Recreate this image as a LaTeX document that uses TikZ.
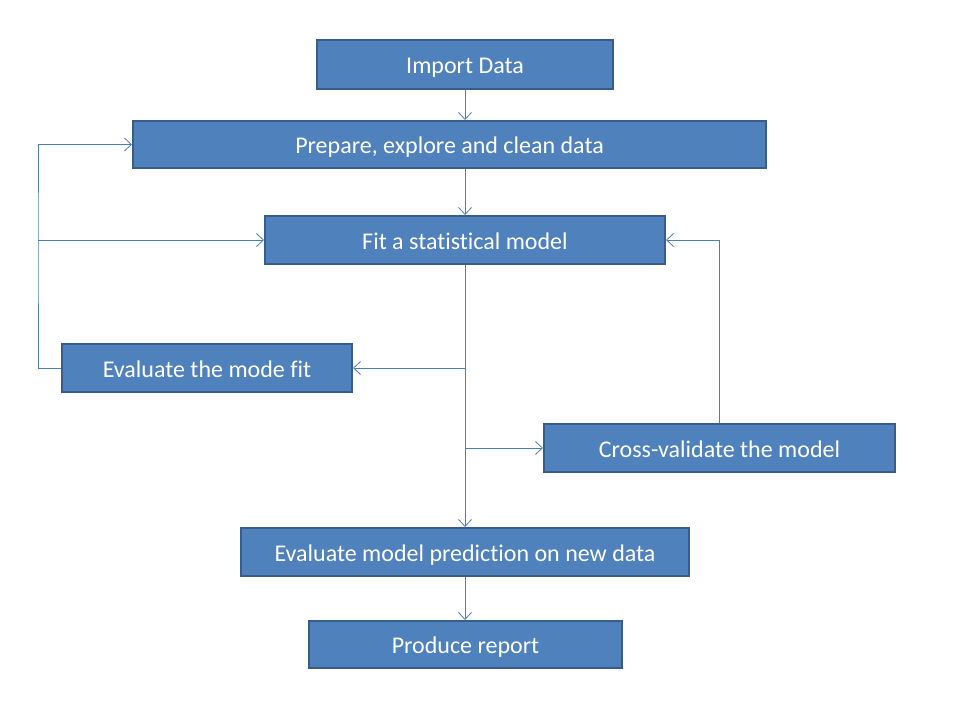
\documentclass[tikz,border=0pt]{standalone}
\usepackage{fontspec}
\setmainfont{Carlito}[Ligatures={NoCommon}]
\usetikzlibrary{arrows.meta}
\definecolor{boxfill}{HTML}{4F81BD}
\definecolor{boxline}{HTML}{385D8A}
\definecolor{conn}{HTML}{4A7EBB}
\begin{document}
\begin{tikzpicture}[x=1pt,y=-1pt,
  stepbox/.style={draw=boxline,line width=2pt,fill=boxfill,text=white,inner sep=0pt,
    font=\fontsize{24}{27}\selectfont,text height=19pt,text depth=1pt},
  conn/.style={draw=conn,line width=1pt,-{Straight Barb[length=7pt,width=13pt,line width=0.8pt]}}]
\useasboundingbox (0,0) rectangle (960,720);
\node[stepbox,minimum width=296pt,minimum height=49pt] (imp) at (465,64.5) {Import Data};
\node[stepbox,minimum width=633pt,minimum height=47pt] (prep) at (449.5,144.5) {Prepare, explore and clean data};
\node[stepbox,minimum width=400pt,minimum height=48pt] (fit) at (465,240) {Fit a statistical model};
\node[stepbox,minimum width=290pt,minimum height=48pt] (evfit) at (207,368) {Evaluate the mode fit};
\node[stepbox,minimum width=351pt,minimum height=48pt] (cv) at (719.5,448) {Cross-validate the model};
\node[stepbox,minimum width=448pt,minimum height=48pt] (evpred) at (465,552) {Evaluate model prediction on new data};
\node[stepbox,minimum width=313pt,minimum height=47pt] (rep) at (465.5,644.5) {Produce report};
\coordinate (b1) at (465,368);
\coordinate (b2) at (465,448);
\coordinate (lft) at (38,240);
\draw[conn] (imp.south) -- (imp.south |- prep.north);
\draw[conn] (prep.south -| fit.north) -- (fit.north);
\draw[conn] (fit.south) -- (evpred.north);
\draw[conn] (b1) -- (evfit.east);
\draw[conn] (b2) -- (cv.west);
\draw[conn] (cv.north) |- (fit.east);
\draw[conn] (evfit.west) -| (lft) |- (prep.west);
\draw[conn] (lft) -- (fit.west);
\draw[conn] (evpred.south) -- (evpred.south |- rep.north);
\end{tikzpicture}
\end{document}
